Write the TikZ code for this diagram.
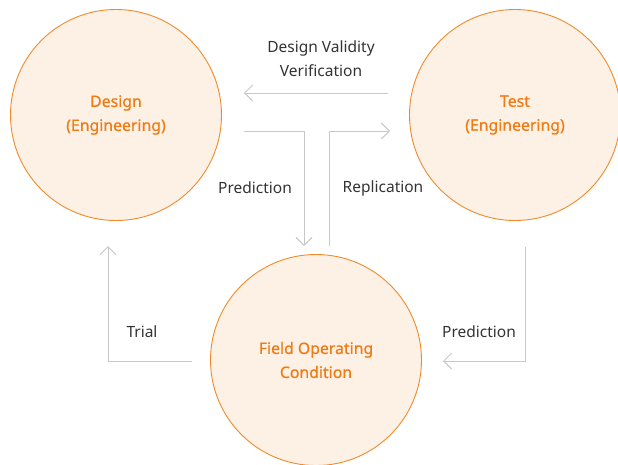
\documentclass[tikz,border=0pt]{standalone}
\usepackage{fontspec}
\setmainfont{Noto Sans}
\newfontfamily\circfont{Noto Sans}[FakeBold=0.7]
\usetikzlibrary{arrows.meta,positioning}
\definecolor{peach}{HTML}{FDF1E6}
\definecolor{rim}{HTML}{F08A2A}
\definecolor{ortext}{HTML}{EE7B14}
\definecolor{arrgray}{HTML}{C8C8C8}
\definecolor{labgray}{HTML}{333333}

\begin{document}
\begin{tikzpicture}[x=1pt,y=-1pt,
circ/.style={circle,draw=rim,fill=peach,line width=0.9pt,minimum size=211pt,inner sep=0pt,
  align=center,text=ortext,font=\circfont\fontsize{15.8}{24}\selectfont},
arr/.style={-{Straight Barb[length=8pt,width=16pt]},draw=arrgray,line width=1pt},
lab/.style={text=labgray,align=center,font=\fontsize{15.5}{24}\selectfont}]
\useasboundingbox (0,0) rectangle (618,464);
\node[circ] (design) at (116,115) {Design\\(Engineering)};
\node[circ] (test) at (515,115) {Test\\(Engineering)};
\node[circ] (field) at (316,360) {Field Operating\\Condition};
% free ends of the connectors
\coordinate (dv1) at (388,93);
\coordinate (dv2) at (244,93);
\coordinate (p1) at (244,131);
\coordinate (p2) at (304,246);
\coordinate (r1) at (329,246);
\coordinate (r2) at (390,131);
\coordinate (t1) at (192,361);
\coordinate (t2) at (108,246);
\coordinate (q1) at (525,247);
\coordinate (q2) at (443,361);
\draw[arr] (dv1)--(dv2);
\draw[arr] (p1)-|(p2);
\draw[arr] (r1)|-(r2);
\draw[arr] (t1)-|(t2);
\draw[arr] (q1)|-(q2);
\node[lab] (dvlab) at (321,59) {Design Validity\\Verification};
\node[lab] (plab) at (255,188) {Prediction};
\node[lab] (rlab) at (383,188) {Replication};
\node[lab] (tlab) at (142,332) {Trial};
\node[lab] (qlab) at (479,332) {Prediction};
\end{tikzpicture}
\end{document}
